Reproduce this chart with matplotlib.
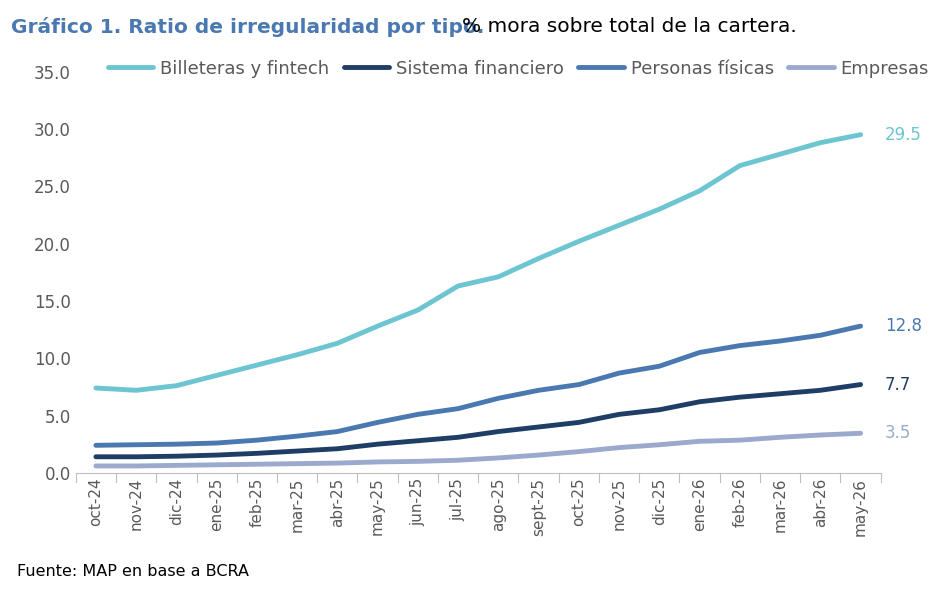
import matplotlib
matplotlib.use("Agg")
import matplotlib.pyplot as plt

months = ["oct-24","nov-24","dic-24","ene-25","feb-25","mar-25","abr-25","may-25","jun-25","jul-25",
          "ago-25","sept-25","oct-25","nov-25","dic-25","ene-26","feb-26","mar-26","abr-26","may-26"]
billeteras = [7.4,7.2,7.6,8.5,9.4,10.3,11.3,12.8,14.2,16.3,17.1,18.7,20.2,21.6,23.0,24.6,26.8,27.8,28.8,29.5]
sistema = [1.4,1.4,1.45,1.55,1.7,1.9,2.1,2.5,2.8,3.1,3.6,4.0,4.4,5.1,5.5,6.2,6.6,6.9,7.2,7.7]
personas = [2.4,2.45,2.5,2.6,2.85,3.2,3.6,4.4,5.1,5.6,6.5,7.2,7.7,8.7,9.3,10.5,11.1,11.5,12.0,12.8]
empresas = [0.6,0.6,0.65,0.7,0.75,0.8,0.85,0.95,1.0,1.1,1.3,1.55,1.85,2.2,2.45,2.75,2.85,3.1,3.3,3.45]

series = [("Billeteras y fintech", billeteras, "#6CC5D0"),
          ("Sistema financiero", sistema, "#1F3E66"),
          ("Personas físicas", personas, "#4A78B0"),
          ("Empresas", empresas, "#9BA9CF")]

fig = plt.figure(figsize=(9.47, 5.97), dpi=100)
ax = fig.add_axes([0.08, 0.208, 0.85, 0.672])
x = list(range(len(months)))
for name, vals, c in series:
    ax.plot(x, vals, color=c, lw=3.5, label=name, solid_capstyle="round")
    ax.text(x[-1] + 0.6, vals[-1], f"{vals[-1]:.1f}", color=c, fontsize=12, va="center")

ax.set_ylim(0, 35)
ax.set_yticks(range(0, 36, 5))
ax.set_yticklabels([f"{v:.1f}" for v in range(0, 36, 5)], fontsize=12, color="#595959")
ax.set_xlim(-0.5, len(months) - 0.5)
ax.set_xticks(x)
ax.set_xticklabels(months, rotation=90, fontsize=11, color="#595959")
ax.tick_params(axis="y", length=0)
ax.tick_params(axis="x", length=0)
for i in range(len(months) + 1):
    ax.plot([i - 0.5, i - 0.5], [0, -0.8], color="#BFBFBF", lw=0.8, clip_on=False)
for s in ["top", "right", "left"]:
    ax.spines[s].set_visible(False)
ax.spines["bottom"].set_color("#BFBFBF")

ax.legend(loc="upper center", bbox_to_anchor=(0.55, 1.07), ncol=4, frameon=False,
          fontsize=13, handlelength=2.5, columnspacing=0.8, handletextpad=0.4,
          labelcolor="#595959")

fig.text(0.012, 0.955, "Gráfico 1. Ratio de irregularidad por tipo.", color="#4A78B0",
         fontsize=14.5, fontweight="bold", va="center")
fig.text(0.488, 0.955, "% mora sobre total de la cartera.", color="black", fontsize=14.5, va="center")
fig.text(0.018, 0.042, "Fuente: MAP en base a BCRA", fontsize=11.5, color="black", va="center")
fig.savefig("out.png", dpi=100, facecolor="white")
